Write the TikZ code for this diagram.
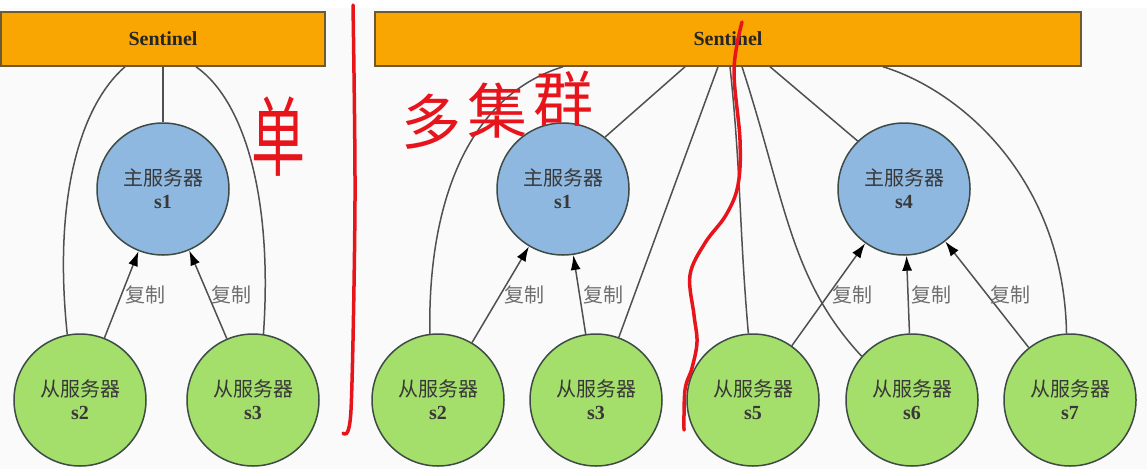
\documentclass[tikz,border=0pt]{standalone}
\usepackage{fontspec}
\setmainfont{Liberation Serif}
\newfontfamily\cjk{Noto Sans CJK SC}
\usetikzlibrary{arrows.meta}
\usepackage{xcolor}
\definecolor{sentorange}{HTML}{FAA602}
\definecolor{sentborder}{HTML}{6B5A32}
\definecolor{masterblue}{HTML}{8EB8E0}
\definecolor{slavegreen}{HTML}{A4DE6B}
\definecolor{ringgray}{HTML}{3E4A44}
\definecolor{linkgray}{HTML}{505050}
\definecolor{labelgray}{HTML}{6E6E6E}
\definecolor{penred}{HTML}{E8141C}

\begin{document}
\begin{tikzpicture}[x=1pt, y=1pt]
	\tikzstyle{sentinel} = [draw=sentborder, line width=1.5pt, fill=sentorange, minimum height=54pt, font=\fontsize{20}{22}\selectfont\bfseries, text=black!85]
	\tikzstyle{master} = [draw=ringgray, line width=1.5pt, fill=masterblue, circle, minimum size=132pt, inner sep=0pt, align=center, font=\fontsize{20}{23}\selectfont, text=black!78]
	\tikzstyle{slave} = [master, fill=slavegreen]
	\tikzstyle{link} = [draw=linkgray, line width=1.5pt]
	\tikzstyle{rep} = [link, -{Latex[length=15pt, width=10pt, color=black]}]
	\tikzstyle{lbl} = [font=\fontsize{20}{20}\selectfont\cjk, text=labelgray, inner sep=3pt]
	\tikzstyle{pen} = [draw=penred, line width=3.5pt, line cap=round, line join=round]
	\tikzstyle{note} = [text=penred, font=\fontsize{60}{60}\selectfont\cjk, inner sep=0pt]
	
	\useasboundingbox (0,0) rectangle (1147,-469);
	\fill[white!98!black] (0,0) rectangle (1147,-469);
	\fill[white] (0,0) rectangle (1147,-8);
	
	% single sentinel
	\node[sentinel, minimum width=324pt]	at (163,-39)	(st1)	{Sentinel};
	\node[master]	at (163,-189)	(ma1)	{{\cjk 主服务器}\\\textbf{s1}};
	\node[slave]	at (80,-400)	(sl1)	{{\cjk 从服务器}\\\textbf{s2}};
	\node[slave]	at (253,-400)	(sl2)	{{\cjk 从服务器}\\\textbf{s3}};
	
	% sentinel for several masters
	\node[sentinel, minimum width=706pt]	at (728,-39)	(st2)	{Sentinel};
	\node[master]	at (563,-189)	(ma2)	{{\cjk 主服务器}\\\textbf{s1}};
	\node[master]	at (904,-189)	(ma3)	{{\cjk 主服务器}\\\textbf{s4}};
	\node[slave]	at (438,-400)	(sl3)	{{\cjk 从服务器}\\\textbf{s2}};
	\node[slave]	at (596,-400)	(sl4)	{{\cjk 从服务器}\\\textbf{s3}};
	\node[slave]	at (753,-400)	(sl5)	{{\cjk 从服务器}\\\textbf{s5}};
	\node[slave]	at (912,-400)	(sl6)	{{\cjk 从服务器}\\\textbf{s6}};
	\node[slave]	at (1070,-400)	(sl7)	{{\cjk 从服务器}\\\textbf{s7}};
	
	\path[link]
	(st1)						edge	(ma1)
	([xshift=-38pt]st1.south)	edge[out=221, in=96, out distance=60pt, in distance=136pt]	(sl1.101)
	([xshift=33pt]st1.south)	edge[out=-35, in=86, out distance=60pt, in distance=135pt]	(sl2.81)
	([xshift=-165pt]st2.south)	edge[out=197, in=91, out distance=97pt, in distance=135pt]	(sl3.97)
	([xshift=-43pt]st2.south)	edge	(ma2.51)
	([xshift=-10pt]st2.south)	edge	(sl4.70)
	([xshift=2pt]st2.south)		edge[out=-84, in=95]	(sl5.94)
	([xshift=14pt]st2.south)	edge[out=-72, in=133, out distance=141pt, in distance=105pt]	(sl6.139)
	([xshift=42pt]st2.south)	edge	(ma3.134)
	([xshift=155pt]st2.south)	edge[out=-17, in=91, out distance=81pt, in distance=155pt]	(sl7.93);
	
	\path[rep]
	(sl1)	edge	node[lbl, right] {复制}	(ma1)
	(sl2)	edge	node[lbl, right] {复制}	(ma1)
	(sl3)	edge	node[lbl, right] {复制}	(ma2)
	(sl4)	edge	node[lbl, right] {复制}	(ma2)
	(sl5)	edge	node[lbl, right] {复制}	(ma3)
	(sl6)	edge	node[lbl, right] {复制}	(ma3)
	(sl7)	edge	node[lbl, right] {复制}	(ma3);
	
	% red pen marks
	\draw[pen] plot[smooth] coordinates {(353,-5) (355,-200) (351,-410) (343,-433)};
	\draw[pen] plot[smooth, tension=0.6] coordinates {(742,-22) (734,-70) (740,-140) (738,-185) (726,-215) (705,-243) (690,-275) (694,-315) (697,-342) (692,-368) (685,-390) (684,-430)};
	\node[note]	at (278,-137)	(n1)	{\scalebox{0.9}[1.45]{单}};
	\node[note]	at (431,-122)	(n2)	{多};
	\node[note]	at (497,-111)	(n3)	{集};
	\node[note]	at (563,-99)	(n4)	{群};
\end{tikzpicture}
\end{document}
